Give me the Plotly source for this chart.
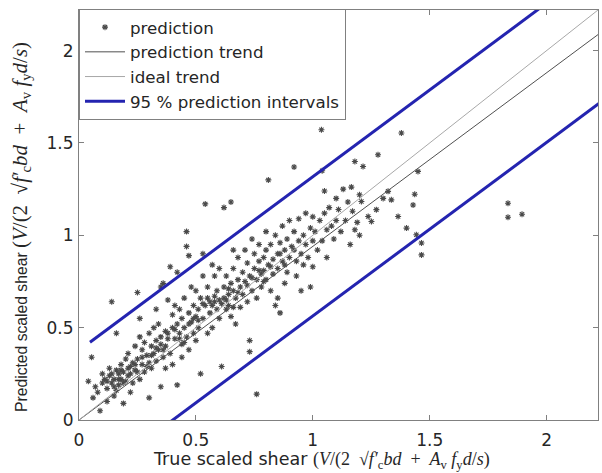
import plotly.graph_objects as go

# ---- data ----
true_x = [
    0.04, 0.054, 0.06, 0.08, 0.09, 0.10, 0.10, 0.07,
    0.11, 0.12, 0.13, 0.13, 0.14, 0.14, 0.15, 0.15, 0.16, 0.16, 0.17, 0.17, 0.18, 0.18, 0.19, 0.19, 0.20, 0.20, 0.12, 0.16,
    0.21, 0.21, 0.22, 0.23, 0.23, 0.24, 0.24, 0.25, 0.25, 0.26, 0.26, 0.27, 0.27, 0.28, 0.28, 0.29, 0.30, 0.30, 0.30, 0.22, 0.26,
    0.31, 0.31, 0.32, 0.32, 0.33, 0.33, 0.34, 0.34, 0.35, 0.35, 0.35, 0.36, 0.36, 0.37, 0.37, 0.38, 0.38, 0.39, 0.39, 0.40, 0.40, 0.40, 0.33, 0.37,
    0.41, 0.42, 0.42, 0.42, 0.43, 0.43, 0.44, 0.44, 0.45, 0.45, 0.46, 0.46, 0.46, 0.47, 0.47, 0.47, 0.48, 0.48, 0.49, 0.49, 0.50, 0.50, 0.50, 0.41, 0.44,
    0.51, 0.51, 0.52, 0.52, 0.53, 0.53, 0.54, 0.54, 0.55, 0.55, 0.56, 0.56, 0.57, 0.57, 0.58, 0.58, 0.59, 0.59, 0.60, 0.60, 0.60, 0.53,
    0.61, 0.62, 0.62, 0.62, 0.63, 0.63, 0.64, 0.64, 0.65, 0.65, 0.65, 0.66, 0.66, 0.67, 0.67, 0.68, 0.68, 0.69, 0.69, 0.70, 0.70, 0.66,
    0.71, 0.71, 0.72, 0.72, 0.73, 0.73, 0.73, 0.74, 0.74, 0.75, 0.75, 0.76, 0.76, 0.76, 0.77, 0.77, 0.78, 0.78, 0.79, 0.79, 0.80, 0.80, 0.81, 0.80,
    0.81, 0.82, 0.82, 0.83, 0.83, 0.84, 0.84, 0.85, 0.85, 0.86, 0.86, 0.87, 0.87, 0.88, 0.88, 0.89, 0.89, 0.90, 0.90, 0.85,
    0.91, 0.92, 0.92, 0.93, 0.93, 0.94, 0.94, 0.95, 0.95, 0.96, 0.96, 0.97, 0.97, 0.98, 0.99, 0.99, 1.00, 1.00, 1.00,
    1.01, 1.037, 1.02, 1.03, 1.04, 1.05, 1.05, 1.06, 1.06, 1.07, 1.08, 1.09, 1.10, 1.10, 1.04,
    1.11, 1.12, 1.13, 1.14, 1.15, 1.16, 1.17, 1.18, 1.19, 1.20, 1.20,
    1.379, 1.279, 1.215, 1.165, 1.208, 1.180, 1.237, 1.251, 1.272, 1.301, 1.322, 1.336, 1.365, 1.401,
    1.429, 1.436, 1.450, 1.443, 1.465, 1.465, 1.835, 1.835, 1.895,
    0.12, 0.14, 0.15, 0.17, 0.18, 0.19, 0.21, 0.22, 0.24, 0.25, 0.27, 0.29, 0.31, 0.33, 0.35, 0.36, 0.38,
    0.41, 0.43, 0.45, 0.47, 0.49, 0.51, 0.53, 0.55, 0.57, 0.58, 0.61, 0.63, 0.64, 0.66, 0.68, 0.72, 0.74,
    0.77, 0.79, 0.82, 0.86, 0.88, 0.92,
]
predicted_y = [
    0.21, 0.34, 0.12, 0.15, 0.05, 0.20, 0.25, 0.18,
    0.22, 0.17, 0.24, 0.28, 0.20, 0.64, 0.22, 0.13, 0.27, 0.47, 0.19, 0.25, 0.30, 0.22, 0.09, 0.26, 0.21, 0.33, 0.10, 0.16,
    0.28, 0.36, 0.25, 0.31, 0.20, 0.40, 0.27, 0.69, 0.33, 0.22, 0.45, 0.30, 0.38, 0.42, 0.26, 0.35, 0.12, 0.31, 0.47, 0.15, 0.55,
    0.40, 0.28, 0.36, 0.50, 0.43, 0.32, 0.38, 0.52, 0.45, 0.72, 0.18, 0.74, 0.34, 0.48, 0.40, 0.65, 0.44, 0.83, 0.36, 0.50, 0.57, 0.30, 0.60, 0.28,
    0.44, 0.80, 0.19, 0.52, 0.47, 0.60, 0.41, 0.55, 0.50, 0.66, 1.02, 0.94, 0.45, 0.89, 0.58, 0.38, 0.53, 0.72, 0.47, 0.62, 0.56, 0.43, 0.70, 0.62, 0.34,
    0.60, 0.50, 0.25, 0.66, 0.78, 0.55, 1.17, 0.62, 0.47, 0.72, 0.64, 0.58, 0.84, 0.50, 0.67, 0.78, 0.60, 0.70, 0.65, 0.55, 0.82, 0.90,
    0.29, 1.15, 0.66, 0.72, 0.60, 0.78, 0.68, 0.62, 1.18, 0.74, 0.56, 0.70, 0.82, 0.66, 0.52, 0.76, 0.88, 0.72, 0.61, 0.80, 0.68, 0.92,
    0.75, 0.92, 0.64, 0.85, 0.37, 0.43, 0.78, 0.98, 0.70, 0.82, 0.90, 0.14, 0.76, 0.66, 0.86, 0.95, 0.79, 0.72, 0.88, 0.81, 0.76, 1.02, 1.30, 0.92,
    0.84, 0.95, 0.70, 0.87, 0.79, 1.00, 0.62, 0.90, 0.82, 0.96, 0.58, 0.86, 1.05, 0.92, 0.74, 0.80, 0.98, 1.08, 0.88, 0.66,
    0.94, 1.37, 1.02, 0.86, 0.78, 0.97, 1.09, 0.90, 0.70, 1.00, 0.84, 1.12, 0.95, 0.88, 1.04, 0.72, 0.97, 1.10, 0.83,
    1.02, 1.572, 0.92, 1.08, 0.97, 1.24, 1.12, 1.03, 0.88, 1.15, 1.05, 0.98, 1.20, 1.08, 1.35,
    1.14, 1.02, 1.25, 1.08, 1.18, 0.95, 1.13, 1.40, 1.07, 1.22, 1.00,
    1.554, 1.436, 1.373, 1.261, 1.183, 1.030, 1.102, 1.075, 1.139, 1.200, 1.238, 1.192, 1.102, 1.039,
    1.164, 1.222, 1.346, 1.003, 0.958, 0.894, 1.174, 1.098, 1.114,
    0.21, 0.25, 0.18, 0.22, 0.27, 0.20, 0.24, 0.29, 0.30, 0.26, 0.34, 0.29, 0.35, 0.39, 0.41, 0.38, 0.47,
    0.49, 0.44, 0.42, 0.52, 0.55, 0.54, 0.63, 0.66, 0.62, 0.64, 0.63, 0.65, 0.71, 0.61, 0.69, 0.73, 0.77,
    0.81, 0.75, 0.83, 0.90, 0.84, 0.92,
]

trend_slope = 0.94          # fitted prediction trend  y = 0.94 x
interval_half_width = 0.377  # 95 % prediction interval half width
line_x = [0.0, 2.4]
interval_x = [0.047, 2.4]

tick_vals = [0, 0.5, 1, 1.5, 2]
tick_text = ["0", "0.5", "1", "1.5", "2"]

trend_y = [trend_slope * v for v in line_x]
ideal_y = list(line_x)
upper_y = [trend_slope * v + interval_half_width for v in interval_x]
lower_y = [trend_slope * v - interval_half_width for v in interval_x]

BLUE = "#2424b0"
AX = "#808080"
TXT = "#262626"
WIDE = "DejaVu Sans, Liberation Sans, sans-serif"
SANS = "Liberation Sans, Arial, sans-serif"
ESP = "\u2002"


def math_label(px):
    serif = f"font-family:'Liberation Serif','DejaVu Serif',serif;font-size:{px}px;"
    return (f"<span style=\"{serif}\">(<i>V</i>/(2{ESP}√<i>f′</i><sub>c</sub><i>bd</i>{ESP}+{ESP}"
            f"<i>A</i><sub>v</sub> <i>f</i><sub>y</sub><i>d</i>/<i>s</i>)</span>")


fig = go.Figure()
fig.add_trace(go.Scatter(
    x=true_x, y=predicted_y, mode="markers", name="prediction",
    marker=dict(symbol="asterisk-open", size=5, color="#4a4a4a",
                line=dict(color="#4a4a4a", width=1.1)),
))
fig.add_trace(go.Scatter(
    x=line_x, y=trend_y, mode="lines", name="prediction trend",
    line=dict(color="#505050", width=1),
))
fig.add_trace(go.Scatter(
    x=line_x, y=ideal_y, mode="lines", name="ideal trend",
    line=dict(color="#a8a8a8", width=1),
))
fig.add_trace(go.Scatter(
    x=interval_x, y=upper_y, mode="lines", name="95 % prediction intervals",
    line=dict(color=BLUE, width=3),
))
fig.add_trace(go.Scatter(
    x=interval_x, y=lower_y, mode="lines", name="95 % prediction intervals",
    line=dict(color=BLUE, width=3), showlegend=False,
))

axis_common = dict(
    range=[0, 2.22], showgrid=False, zeroline=False, automargin=False,
    showline=True, linecolor=AX, linewidth=1, mirror="ticks",
    ticks="inside", ticklen=5, tickcolor=AX,
    tickvals=tick_vals, ticktext=tick_text,
    tickfont=dict(family=WIDE, size=17, color=TXT),
)

fig.update_layout(
    width=602, height=473,
    margin=dict(l=79, r=4, t=10, b=53, autoexpand=False),
    paper_bgcolor="white", plot_bgcolor="white",
    font=dict(family=WIDE, color=TXT),
    xaxis=dict(**axis_common, ticklabelstandoff=5),
    yaxis=dict(**axis_common, ticklabelstandoff=1),
    legend=dict(
        x=0, y=1.003, xanchor="left", yanchor="top",
        bgcolor="white", bordercolor=AX, borderwidth=1,
        font=dict(family=WIDE, size=16.7, color=TXT),
        tracegroupgap=0, itemwidth=40,
    ),
    showlegend=True,
    annotations=[
        dict(text="True scaled shear " + math_label(18),
             xref="paper", yref="paper", x=0.468, y=-0.0976,
             xanchor="center", yanchor="middle", showarrow=False,
             font=dict(family=WIDE, size=17.5, color=TXT)),
        dict(text="Predicted scaled shear " + math_label(21),
             xref="paper", yref="paper", x=-0.1108, y=0.472,
             xanchor="center", yanchor="middle", showarrow=False, textangle=-90,
             font=dict(family=SANS, size=15.7, color=TXT)),
    ],
)

fig.write_html("out.html", config={"displayModeBar": False},
               post_script="document.body.style.margin='0';")
